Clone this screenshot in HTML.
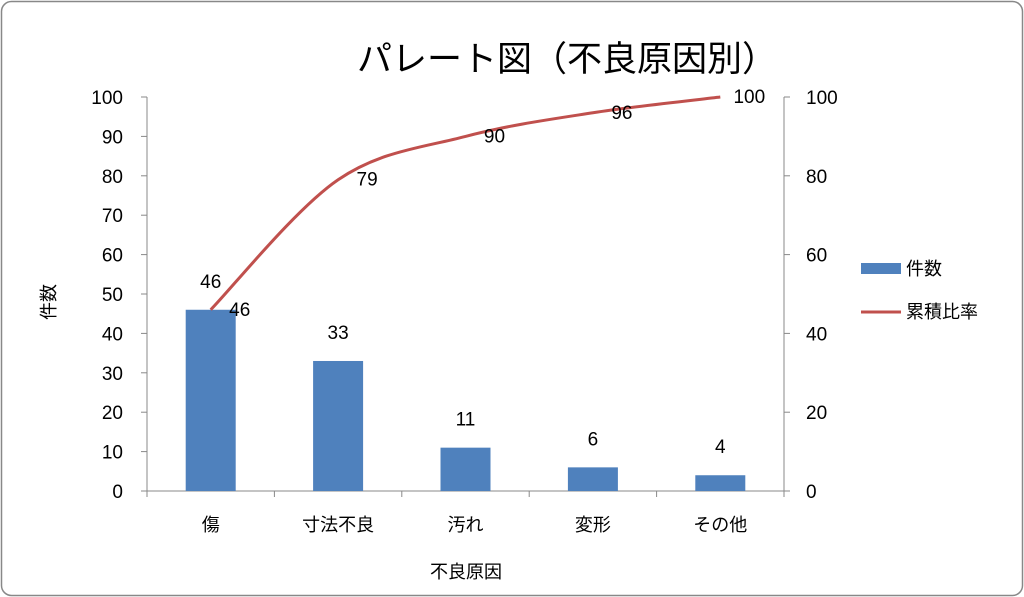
<!DOCTYPE html>
<html><head><meta charset="utf-8"><style>
body{margin:0;background:#fff;}
svg{display:block;font-family:"Liberation Sans","Noto Sans CJK JP",sans-serif;}
</style></head><body>
<svg id="c" width="1024" height="597">
<rect x="1.5" y="1.5" width="1021" height="594" rx="10" fill="#fff" stroke="#888" stroke-width="1.5"/>
<text x="567" y="71" font-size="35" text-anchor="middle" fill="#000">パレート図（不良原因別）</text>
<text x="55" y="302" font-size="18" text-anchor="middle" transform="rotate(-90 55 302)">件数</text>
<text x="466" y="578" font-size="18" text-anchor="middle">不良原因</text>
<g id="plot"></g>
<rect x="861" y="263" width="40" height="11" fill="#4f81bd"/>
<text x="906" y="275" font-size="18">件数</text>
<line x1="861" y1="312" x2="901" y2="312" stroke="#c0504d" stroke-width="3"/>
<text x="906" y="318" font-size="18">累積比率</text>
</svg>
<script>
const categories=["傷","寸法不良","汚れ","変形","その他"];
const counts=[46,33,11,6,4];
const cumulative=[46,79,90,96,100];
const leftTicks=[0,10,20,30,40,50,60,70,80,90,100];
const rightTicks=[0,20,40,60,80,100];
const NS="http://www.w3.org/2000/svg";
const g=document.getElementById('plot');
const X0=147,X1=784,Y0=491,Y1=97;
const bw=(X1-X0)/categories.length;
const xc=i=>X0+bw*(i+0.5);
const yL=v=>Y0-(v/100)*(Y0-Y1);
const yR=v=>Y0-(v/100)*(Y0-Y1);
const FS=19;
function el(t,a,txt){const e=document.createElementNS(NS,t);for(const k in a)e.setAttribute(k,a[k]);if(txt!==undefined)e.textContent=txt;g.appendChild(e);return e;}
let e;
e=el('line',{x1:X0,y1:Y1,x2:X0,y2:Y0,stroke:'#888'});


e=el('line',{x1:X1,y1:Y1,x2:X1,y2:Y0,stroke:'#888'});


e=el('line',{x1:X0,y1:Y0,x2:X1,y2:Y0,stroke:'#888'});


leftTicks.forEach(v=>{
 el('line',{x1:X0-6,y1:yL(v),x2:X0,y2:yL(v),stroke:'#888'});
 e=el('text',{x:123,y:yL(v)+7,'font-size':FS,'text-anchor':'end'},v);
 
 
});
rightTicks.forEach(v=>{
 el('line',{x1:X1,y1:yR(v),x2:X1+6,y2:yR(v),stroke:'#888'});
 e=el('text',{x:806,y:yR(v)+7,'font-size':FS},v);
 
 
});
for(let i=0;i<=categories.length;i++) el('line',{x1:X0+bw*i,y1:Y0,x2:X0+bw*i,y2:Y0+6,stroke:'#888'});
categories.forEach((c,i)=>{
 e=el('text',{x:xc(i),y:531,'font-size':18,'text-anchor':'middle'},c);
 
 
 e=el('rect',{x:xc(i)-25,y:yL(counts[i]),width:50,height:Y0-yL(counts[i]),fill:'#4f81bd'});
 
 
 e=el('text',{x:xc(i),y:yL(counts[i])-22,'font-size':FS,'text-anchor':'middle'},counts[i]);
 
 
});
const pts=cumulative.map((v,i)=>[xc(i),yR(v)]);
let d='M'+pts[0][0]+','+pts[0][1];
for(let i=0;i<pts.length-1;i++){
 const p0=pts[Math.max(0,i-1)],p1=pts[i],p2=pts[i+1],p3=pts[Math.min(pts.length-1,i+2)];
 const t=6;
 d+=` C${p1[0]+(p2[0]-p0[0])/t},${p1[1]+(p2[1]-p0[1])/t} ${p2[0]-(p3[0]-p1[0])/t},${p2[1]-(p3[1]-p1[1])/t} ${p2[0]},${p2[1]}`;
}
e=el('path',{d:d,fill:'none',stroke:'#c0504d','stroke-width':3});


cumulative.forEach((v,i)=>{
 e=el('text',{x:xc(i)+29,y:yR(v)+6,'font-size':FS,'text-anchor':'middle'},v);
 
 
});
</script>
</body></html>
